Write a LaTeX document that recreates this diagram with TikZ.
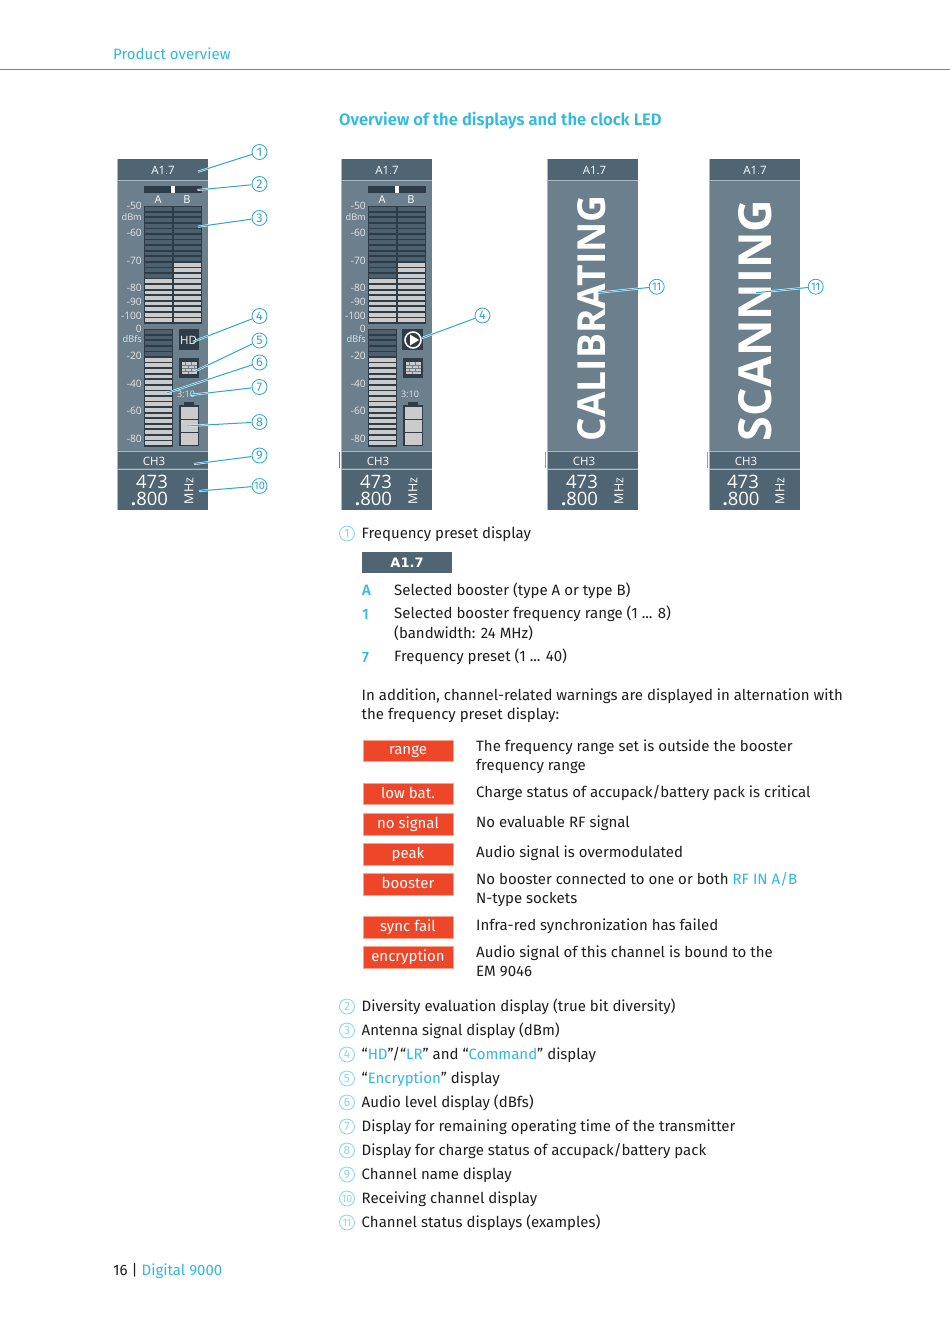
\documentclass[tikz,border=0pt]{standalone}
\usepackage{fontspec}
\setmainfont{Fira Sans}
\newfontfamily\panelfont{Open Sans}
\newfontfamily\semifont{Fira Sans SemiBold}
\newfontfamily\medfont{Fira Sans Medium}
\newfontfamily\dvfont{DejaVu Sans}
\definecolor{cy}{HTML}{2FB9E4}
\definecolor{cyl}{HTML}{2BA6D0}
\definecolor{cypale}{HTML}{8FD5EF}
\definecolor{hdr}{HTML}{4F6574}
\definecolor{body}{HTML}{6B808C}
\definecolor{edge}{HTML}{A9BAC4}
\definecolor{seg}{HTML}{4C616D}
\definecolor{lit}{HTML}{CBCBCB}
\definecolor{dark}{HTML}{2E3C47}
\definecolor{redbox}{HTML}{EE4629}
\definecolor{redline}{HTML}{F9A487}
\definecolor{txtc}{HTML}{1E1E1E}
\newcounter{tn}
\newcommand{\fs}[1]{\fontsize{#1}{#1}\selectfont}
\tikzset{
  x=1pt,y=-1pt,
  tx/.style={anchor=mid west,inner sep=0pt,yshift=-3pt,text=txtc,font=\fs{15}},
  ptx/.style={inner sep=0pt,text=white,font=\panelfont\fs{#1}},
  sc/.style={anchor=mid east,inner sep=0pt,text=white!90!black,font=\panelfont\fs{10.2}},
  callout/.style={circle,draw=cyl,line width=0.8pt,fill=white,inner sep=0pt,minimum size=15pt,text=cyl,font=\fs{12.5}},
  lead/.style={draw=cyl,line width=1pt,preaction={draw=white,line width=2pt}},
  listnum/.style={circle,draw=cypale,line width=0.9pt,inner sep=0pt,minimum size=15pt,text=cypale,font=\fs{12}},
  redstyle/.style={draw=redline,line width=0.7pt,fill=redbox,minimum width=90pt,minimum height=21.5pt,inner sep=0pt,text=white,font=\fs{15}},
}
\newcommand{\tl}[3]{\stepcounter{tn}\node[tx] (t\arabic{tn}) at (#1,#2) {#3};}
\newcommand{\cy}[1]{\textcolor{cy}{#1}}
\newcommand{\frameparts}[6]{% dx, A1.7 x, CH3 x, 473 x, .800 x, MHz x
  \begin{scope}[xshift=#1pt]
  \fill[body] (118,159) rectangle (208,510);
  \draw[edge,line width=0.7pt] (117.5,159) -- (117.5,510);
  \fill[hdr] (118,159) rectangle (208,180);
  \draw[edge,line width=0.5pt] (118,180.5) -- (208,180.5);
  \fill[hdr] (118,452) rectangle (208,468);
  \draw[edge,line width=0.5pt] (118,451.5) -- (208,451.5) (118,469) -- (208,469);
  \fill[hdr] (118,470) rectangle (208,510);
  \node[ptx=11.5] (a#1) at (#2,170.5) {A1.7};
  \node[ptx=11.5] (c#1) at (#3,461) {CH3};
  \node[ptx=18.5] (f#1) at (#4,481.5) {473};
  \node[ptx=18.5] (g#1) at (#5,499) {{\bfseries .}800};
  \node[ptx=12.5,rotate=90] (m#1) at (#6,491) {MHz};
  \end{scope}}
\newcommand{\meter}[4]{% x0, y0, lit count, name
  \fill[dark] (#1,#2) rectangle ++(28.5,117.5);
  \foreach \i in {1,...,21}{
    \pgfmathsetmacro{\yy}{#2+1+(\i-1)*5.57}
    \ifnum\i>\numexpr21-#3\relax
      \fill[lit] (#1+1,\yy) rectangle ++(26.5,3.8);
    \else
      \fill[seg] (#1+1,\yy) rectangle ++(26.5,3.8);
    \fi
  }}
\newcommand{\fullpanel}[2]{% dx, id
  \begin{scope}[xshift=#1pt]
  \fill[dark] (143.5,186) rectangle (201.5,193);
  \fill[white] (171,186) rectangle (175,193);
  \node[ptx=11] (pa#2) at (158,199.5) {A};
  \node[ptx=11] (pb#2) at (187,199.5) {B};
  \meter{144}{206}{8}{ma}
  \meter{173}{206}{11}{mb}
  \meter{144}{329}{16}{mc}
  \node[sc] (s1#2) at (142,207) {-50};
  \node[sc,font=\panelfont\fs{9.2}] (s2#2) at (142,217.5) {dBm};
  \node[sc] (s3#2) at (142,234) {-60};
  \node[sc] (s4#2) at (142,262) {-70};
  \node[sc] (s5#2) at (142,289) {-80};
  \node[sc] (s6#2) at (142,303) {-90};
  \node[sc] (s7#2) at (142,317) {-100};
  \node[sc] (s8#2) at (142,329.5) {0};
  \node[sc,font=\panelfont\fs{9.2}] (s9#2) at (142,339.5) {dBfs};
  \node[sc] (s10#2) at (142,357) {-20};
  \node[sc] (s11#2) at (142,385) {-40};
  \node[sc] (s12#2) at (142,412) {-60};
  \node[sc] (s13#2) at (142,439.5) {-80};
  % encryption icon
  \fill[dark] (179,358) rectangle (199,378);
  \fill[lit] (181.5,362) rectangle (196.5,374);
  \draw[body,line width=0.45pt] (181.5,365) -- (196.5,365) (181.5,368) -- (196.5,368) (181.5,371) -- (196.5,371)
     (185,362) -- (185,365) (191,362) -- (191,365) (188,365) -- (188,368) (194,365) -- (194,368) (185,368) -- (185,371) (191,368) -- (191,371) (188,371) -- (188,374);
  % battery
  \fill[dark] (184,402) rectangle (194,406);
  \fill[dark] (179,405) rectangle (199,446);
  \foreach \yy in {406.5,420,433}{\fill[lit] (180.5,\yy) rectangle ++(17,12);}
  \node[ptx=9,text=white!90!black] (tm#2) at (186,394) {3:10};
  \end{scope}}
\begin{document}
\begin{tikzpicture}
\useasboundingbox (0,0) rectangle (950,1344);
\fill[white] (0,0) rectangle (950,1344);
% page header
\draw[gray,line width=1.2pt] (0,69.5) -- (950,69.5);
\node[tx,text=cy] (head) at (113,54) {Product overview};
\node[tx,text=cy,font=\semifont\fs{16.6}] (title) at (339,119.5) {Overview of the displays and the clock LED};
\node[tx] (foot) at (113,1269.5) {16 | \cy{Digital 9000}};
% panels
\frameparts{0}{163}{154}{152}{149.5}{189}
\fullpanel{0}{A}
\fill[dark] (179,329) rectangle (199,350);
\node[ptx=11.5] (hd) at (188.5,340) {HD};
\frameparts{224}{163}{154}{152}{149.5}{189}
\fullpanel{224}{B}
\fill[dark] (402,329) rectangle (423,350);
\draw[white,line width=1.6pt] (413,340) circle (8);
\fill[white] (410,334.5) -- (419,340) -- (410,345.5) -- cycle;
\draw[dark!70,line width=0.7pt] (339.5,452) -- (339.5,468);
\frameparts{430}{164.5}{154}{152}{149.5}{189}
\draw[dark!50,line width=0.7pt] (545.5,452) -- (545.5,468);
\node[rotate=90,inner sep=0pt,text=white] (cal) at (592,318.5) {\resizebox{246pt}{28pt}{\panelfont\bfseries CALIBRATING}};
\frameparts{592}{163}{154}{151}{149}{188}
\draw[dark!50,line width=0.7pt] (707.5,452) -- (707.5,468);
\node[rotate=90,inner sep=0pt,text=white] (scan) at (755,320.5) {\resizebox{241pt}{33pt}{\panelfont\bfseries SCANNING}};
% leader ends
\coordinate (e1) at (198,171.7);
\coordinate (e2) at (197.5,190);
\coordinate (e3) at (198,226.7);
\coordinate (e4) at (193,341.7);
\coordinate (e5) at (194,371.7);
\coordinate (e6) at (166.7,393);
\coordinate (e7) at (190,395);
\coordinate (e8) at (187,426);
\coordinate (e9) at (194,464);
\coordinate (e10) at (199,491);
\coordinate (e4b) at (422,338);
\coordinate (e11a) at (598,292.7);
\coordinate (e11b) at (756,292.7);
\node[callout] (c1) at (259.5,152) {1};
\node[callout] (c2) at (259.5,184) {2};
\node[callout] (c3) at (259.5,218) {3};
\node[callout] (c4) at (259.5,316) {4};
\node[callout] (c5) at (259.5,340.5) {5};
\node[callout] (c6) at (259.5,362.5) {6};
\node[callout] (c7) at (259.5,387) {7};
\node[callout] (c8) at (259.5,422) {8};
\node[callout] (c9) at (259.5,455.5) {9};
\node[callout,font=\fs{11}] (c10) at (259.5,486) {10};
\node[callout] (c4b) at (482.5,315.5) {4};
\node[callout,font=\fs{11}] (c11a) at (656.7,286.7) {11};
\node[callout,font=\fs{11}] (c11b) at (815.7,286.7) {11};
\foreach \a/\b in {e1/c1,e2/c2,e3/c3,e4/c4,e5/c5,e6/c6,e7/c7,e8/c8,e9/c9,e10/c10,e4b/c4b,e11a/c11a,e11b/c11b}{
  \path[lead] (\a) -- (\b);
}
% list item 1
\node[listnum] (l1) at (347,533.5) {1};
\tl{361.5}{533}{Frequency preset display}
\node[fill=hdr,minimum width=90pt,minimum height=21pt,inner sep=0pt,text=white,font=\dvfont\bfseries\fs{13}] (pb) at (407,562.5) {\hspace*{0pt}A1.7};
\tl{362}{589.5}{\cy{\medfont A}}
\tl{394}{589.5}{Selected booster (type A or type B)}
\tl{362}{613.5}{\cy{\medfont 1}}
\tl{394}{613}{Selected booster frequency range (1 ... 8)}
\tl{394}{632.5}{(bandwidth: 24 MHz)}
\tl{362}{656.5}{\cy{\medfont 7}}
\tl{394}{656}{Frequency preset (1 ... 40)}
\tl{361.5}{694.5}{In addition, channel-related warnings are displayed in alternation with}
\tl{361.5}{714}{the frequency preset display:}
% warnings
\foreach \n/\y/\t in {r1/751/range,r2/794/low bat.,r3/824.5/no signal,r4/854.5/peak,r5/884.5/booster,r6/927.5/sync fail,r7/957.5/encryption}{
  \node[redstyle] (\n) at (408,\y) {\vphantom{Ag}\t};
}
\tl{476}{745.5}{The frequency range set is outside the booster}
\tl{476}{765}{frequency range}
\tl{476}{791.5}{Charge status of accupack/battery pack is critical}
\tl{476}{821.5}{No evaluable RF signal}
\tl{476}{851.5}{Audio signal is overmodulated}
\tl{476}{879}{No booster connected to one or both \cy{RF IN A/B}}
\tl{476}{898}{N-type sockets}
\tl{476}{925}{Infra-red synchronization has failed}
\tl{476}{951.5}{Audio signal of this channel is bound to the}
\tl{476}{971}{EM 9046}
% legend list
\foreach \n/\y in {2/1006.5,3/1030.5,4/1054.5,5/1078.5,6/1102.5,7/1126.5,8/1150.5,9/1174.5}{
  \node[listnum] (l\n) at (347,\y) {\n};
}
\foreach \n/\y in {10/1198.5,11/1222.5}{
  \node[listnum,font=\fs{10.5}] (l\n) at (347,\y) {\n};
}
\tl{361.5}{1006}{Diversity evaluation display (true bit diversity)}
\tl{361.5}{1030}{Antenna signal display (dBm)}
\tl{361.5}{1054}{“\cy{HD}”/“\cy{LR}” and “\cy{Command}” display}
\tl{361.5}{1078}{“\cy{Encryption}” display}
\tl{361.5}{1102}{Audio level display (dBfs)}
\tl{361.5}{1126}{Display for remaining operating time of the transmitter}
\tl{361.5}{1150}{Display for charge status of accupack/battery pack}
\tl{361.5}{1174}{Channel name display}
\tl{361.5}{1198}{Receiving channel display}
\tl{361.5}{1221.5}{Channel status displays (examples)}
\end{tikzpicture}
\end{document}
